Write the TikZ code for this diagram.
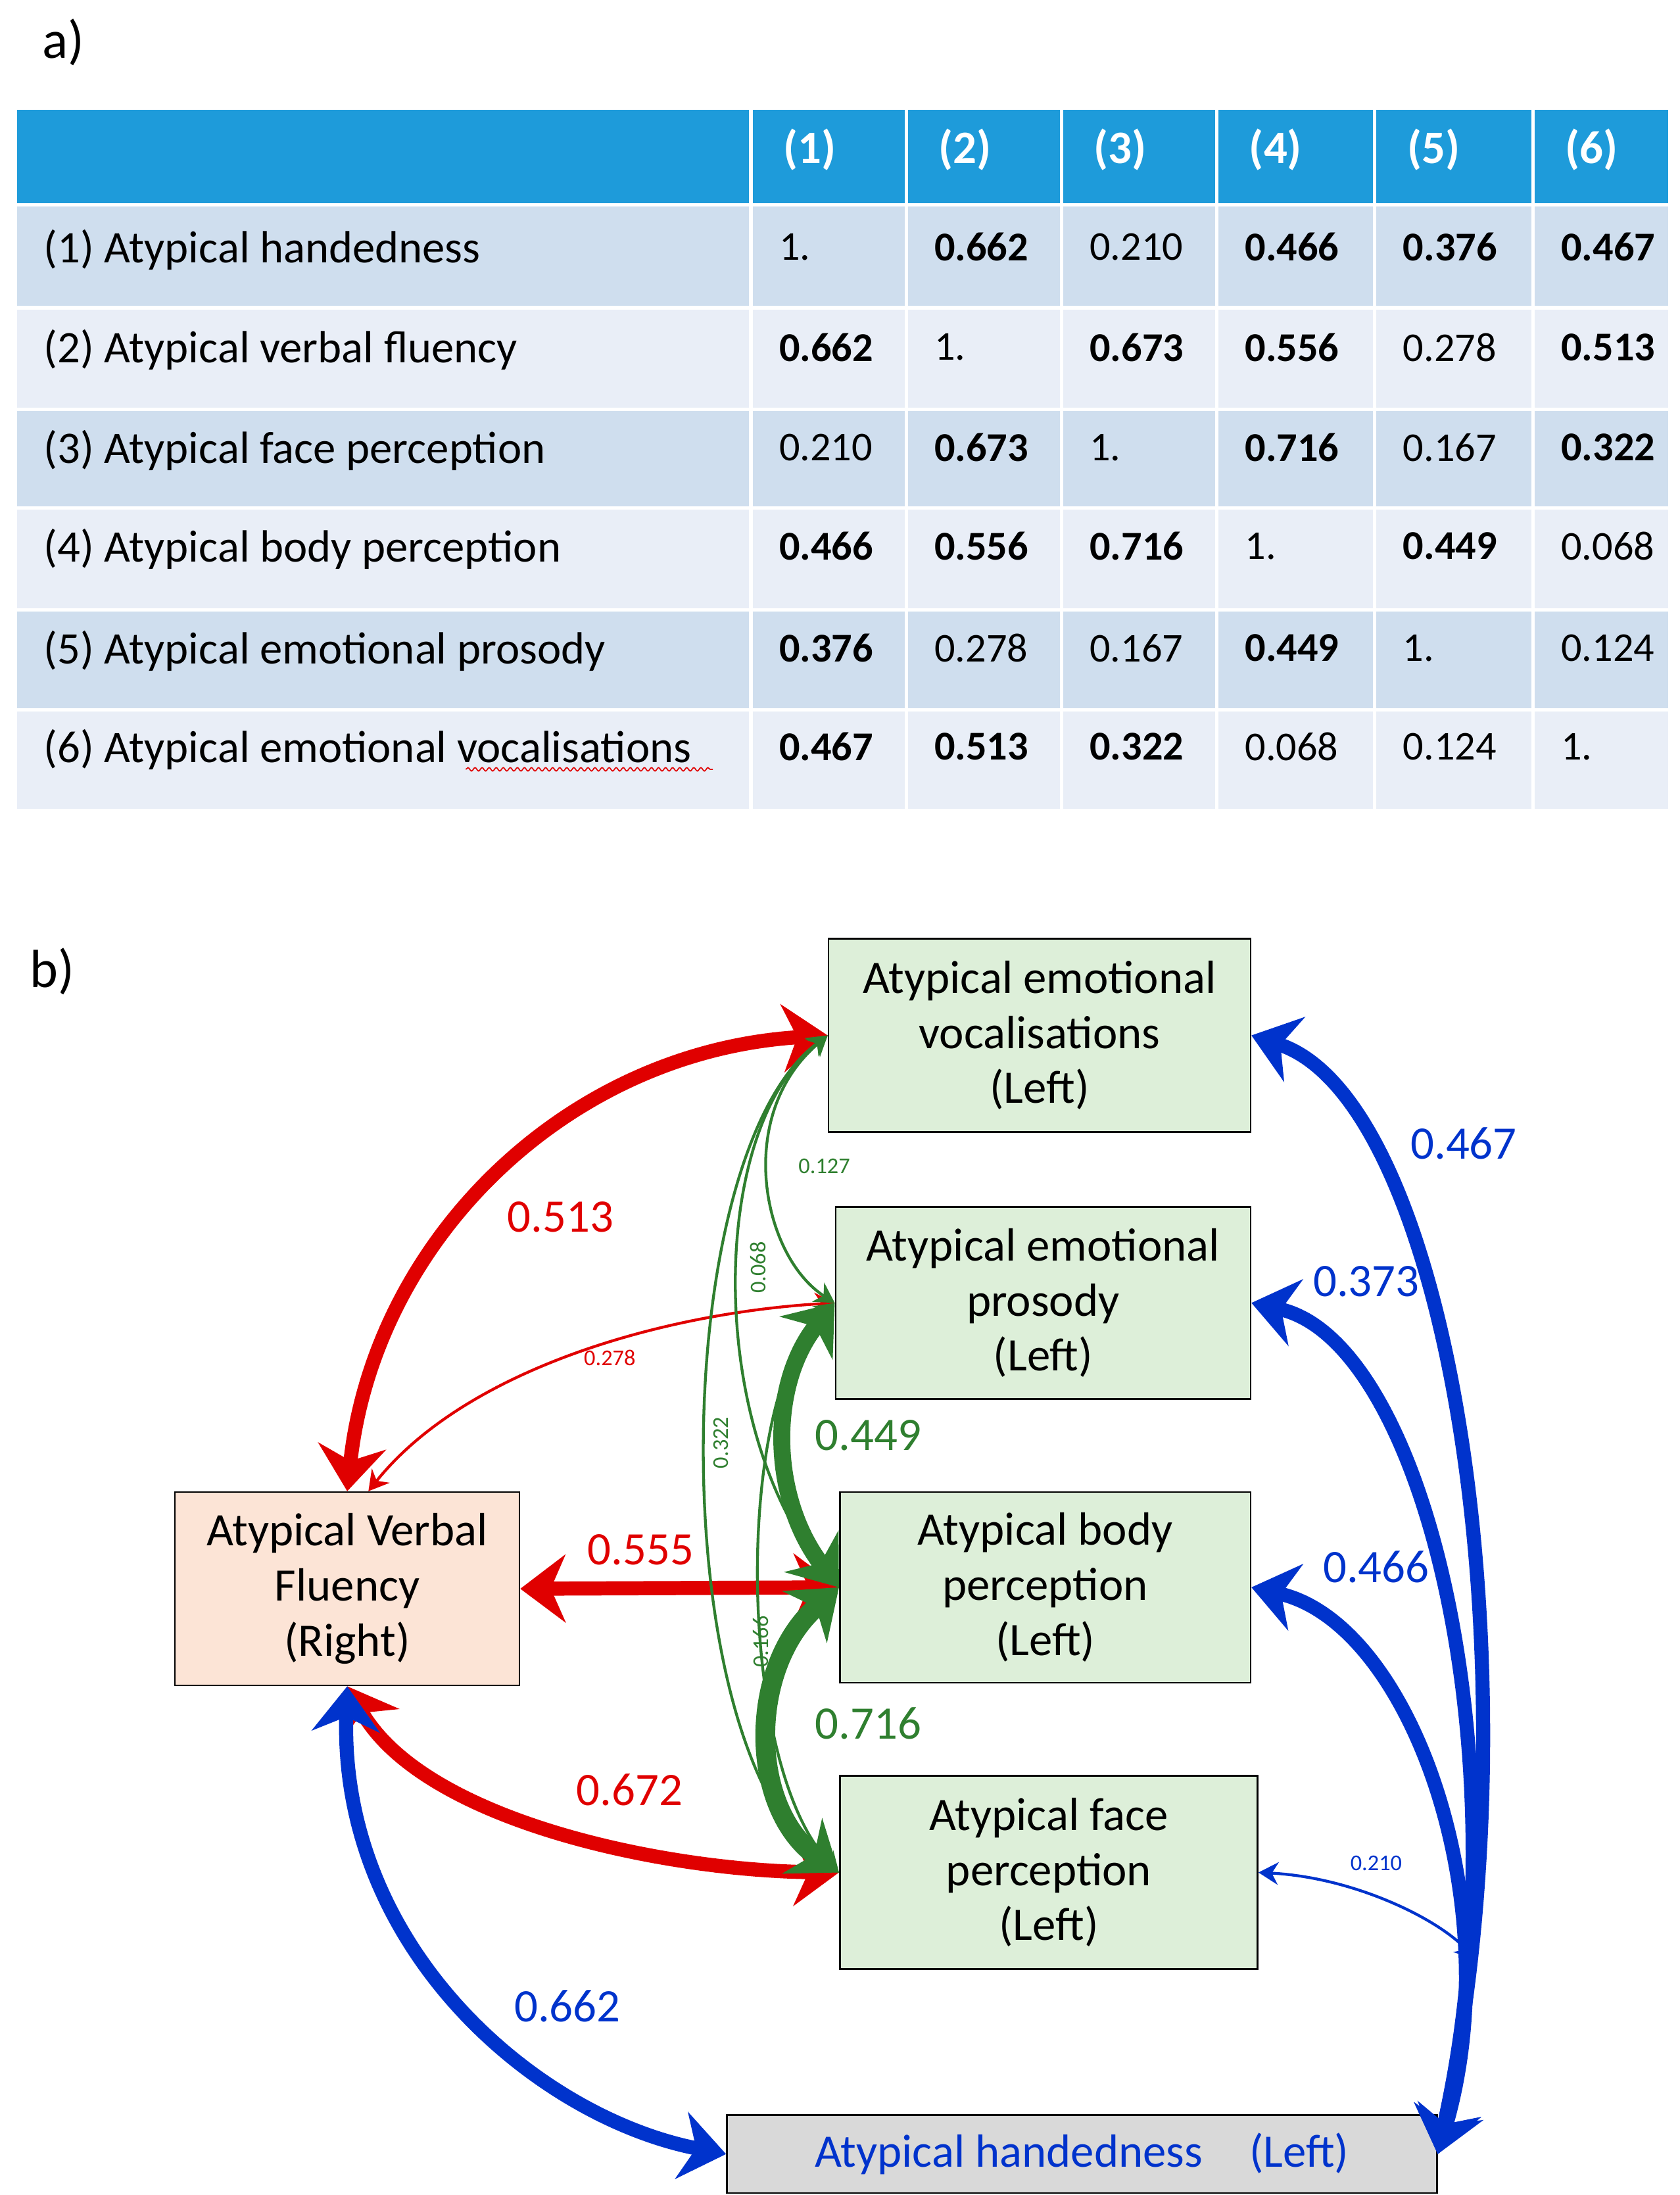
\documentclass[tikz,border=0pt]{standalone}
\usepackage{fontspec}
\setmainfont{Carlito}
\usetikzlibrary{arrows.meta,decorations.pathmorphing}
\definecolor{hdr}{HTML}{1E9BDA}
\definecolor{rowA}{HTML}{CFDEEE}
\definecolor{rowB}{HTML}{E9EEF7}
\definecolor{gbox}{HTML}{DDEFD9}
\definecolor{pbox}{HTML}{FCE4D6}
\definecolor{gybox}{HTML}{D9D9D9}
\definecolor{cr}{HTML}{E00000}
\definecolor{cb}{HTML}{0033CC}
\definecolor{cg}{HTML}{2F7F2F}
\begin{document}
\begin{tikzpicture}[x=0.5pt,y=-0.5pt,
  tcell/.style={font=\fontsize{14.5}{16}\selectfont,anchor=west},
  box/.style={draw=black,line width=0.6pt,align=center,font=\fontsize{16.5}{19.5}\selectfont,inner sep=0pt},
  big/.style={line width=5pt,{Stealth[length=16pt,width=24pt]}-{Stealth[length=16pt,width=24pt]}},
  thin/.style={line width=1pt,{Stealth[length=7pt,width=8pt]}-{Stealth[length=7pt,width=8pt]}},
  lab/.style={font=\fontsize{16.5}{18}\selectfont},
  slab/.style={font=\fontsize{8}{9}\selectfont}]
\useasboundingbox (0,0) rectangle (1190,1555);
\node[font=\fontsize{19}{21}\selectfont] (la) at (45,30) {a)};
% table
\fill[hdr] (12,78) rectangle (1182,145);
\foreach \t/\b/\c in {145/218/rowA,218/290/rowB,290/360/rowA,360/432/rowB,432/503/rowA,503/573/rowB}
  \fill[\c] (12,\t) rectangle (1182,\b);
\foreach \x in {532,642,752,862,974,1086} \draw[white,line width=1.2pt] (\x,78) -- (\x,573);
\foreach \y in {145,218,290,360,432,503} \draw[white,line width=1.2pt] (12,\y) -- (1182,\y);
\foreach \i/\x in {1/548,2/658,3/768,4/878,5/990,6/1102}
  \node[tcell,text=white,font=\fontsize{16.5}{18}\selectfont\bfseries] (h\i) at (\x,106) {(\i)};
\foreach \r/\y/\t in {1/177/{(1) Atypical handedness},2/248/{(2) Atypical verbal fluency},3/319/{(3) Atypical face perception},4/389/{(4) Atypical body perception},5/461/{(5) Atypical emotional prosody},6/531/{(6) Atypical emotional vocalisations}}
  \node[tcell,font=\fontsize{16}{18}\selectfont] (r\r) at (24,\y) {\t};
\draw[cr,line width=0.4pt,decorate,decoration={snake,amplitude=0.6pt,segment length=2.5pt}] (330,545) -- (505,545);
\newcommand\rowvals[2]{\foreach \v [count=\j] in {#2}{%
  \pgfmathsetmacro\xx{{0,545,655,765,875,987,1099}[\j]}%
  \node[tcell] (c#1\j) at (\xx,#1) {\v};}}
\rowvals{175}{1.,\textbf{0.662},0.210,\textbf{0.466},\textbf{0.376},\textbf{0.467}}
\rowvals{246}{\textbf{0.662},1.,\textbf{0.673},\textbf{0.556},0.278,\textbf{0.513}}
\rowvals{317}{0.210,\textbf{0.673},1.,\textbf{0.716},0.167,\textbf{0.322}}
\rowvals{387}{\textbf{0.466},\textbf{0.556},\textbf{0.716},1.,\textbf{0.449},0.068}
\rowvals{459}{\textbf{0.376},0.278,0.167,\textbf{0.449},1.,0.124}
\rowvals{529}{\textbf{0.467},\textbf{0.513},\textbf{0.322},0.068,0.124,1.}
% diagram
\node[font=\fontsize{19}{21}\selectfont] (lb) at (37,688) {b)};
\node[box,fill=gbox,minimum width=149.5pt,minimum height=68.5pt] (voc) at (736.5,733.5) {Atypical emotional\\vocalisations\\(Left)};
\node[box,fill=gbox,minimum width=147pt,minimum height=68pt] (pro) at (739,923) {Atypical emotional\\prosody\\(Left)};
\node[box,fill=gbox,minimum width=145.5pt,minimum height=67.5pt] (bod) at (740.5,1124.5) {Atypical body\\perception\\(Left)};
\node[box,fill=gbox,minimum width=148pt,minimum height=68.5pt] (fac) at (743,1326.5) {Atypical face\\perception\\(Left)};
\node[box,fill=pbox,minimum width=122pt,minimum height=68.5pt] (vf) at (246,1125.5) {Atypical Verbal\\Fluency\\(Right)};
\node[box,fill=gybox,minimum width=251.5pt,minimum height=27.5pt,text=cb] (hand) at (766.5,1526) {Atypical handedness\quad(Left)};
% red
\draw[big,cr] (vf.north) .. controls (265,880) and (400,745) .. (voc.west);
\draw[thin,cr] (vf.north) ++(15,0) .. controls (330,970) and (470,930) .. (pro.west);
\draw[big,cr] (vf.east) -- (bod.west);
\draw[big,cr] (vf.south) .. controls (300,1290) and (470,1325) .. (fac.west);
% blue
\draw[big,cb] (vf.south) .. controls (240,1380) and (380,1500) .. (hand.west);
\draw[big,cb] (voc.east) .. controls (1030,780) and (1090,1200) .. (hand.east);
\draw[big,cb] (pro.east) .. controls (1010,950) and (1080,1250) .. (hand.east);
\draw[big,cb] (bod.east) .. controls (1000,1150) and (1070,1350) .. (hand.east);
\draw[thin,cb] (fac.east) .. controls (960,1330) and (1020,1360) .. (1045,1388);
% green
\draw[big,cg,line width=6pt] (pro.west) .. controls (545,980) and (545,1060) .. (bod.west);
\draw[big,cg,line width=7pt] (bod.west) .. controls (530,1180) and (530,1280) .. (fac.west);
\draw[thin,cg] (voc.west) .. controls (520,790) and (540,890) .. (pro.west);
\draw[thin,cg] (voc.west) .. controls (500,800) and (500,1020) .. (bod.west);
\draw[thin,cg] (voc.west) .. controls (470,820) and (470,1250) .. (fac.west);
\draw[thin,cg] (pro.west) .. controls (520,980) and (520,1250) .. (fac.west);
% labels
\node[lab,cr] (l513) at (397,862) {0.513};
\node[slab,cr] (l278) at (432,962) {0.278};
\node[lab,cr] (l555) at (454,1098) {0.555};
\node[lab,cr] (l672) at (446,1268) {0.672};
\node[lab,cb] (l662) at (402,1421) {0.662};
\node[lab,cb] (l467) at (1037,810) {0.467};
\node[lab,cb] (l373) at (968,908) {0.373};
\node[lab,cb] (l466) at (975,1110) {0.466};
\node[slab,cb] (l210) at (975,1320) {0.210};
\node[lab,cg] (l449) at (615,1017) {0.449};
\node[lab,cg] (l716) at (615,1221) {0.716};
\node[slab,cg] (l127) at (584,826) {0.127};
\node[slab,cg,rotate=90] (l068) at (537,898) {0.068};
\node[slab,cg,rotate=90] (l322) at (511,1022) {0.322};
\node[slab,cg,rotate=90] (l166) at (539,1163) {0.166};
\end{tikzpicture}
\end{document}
